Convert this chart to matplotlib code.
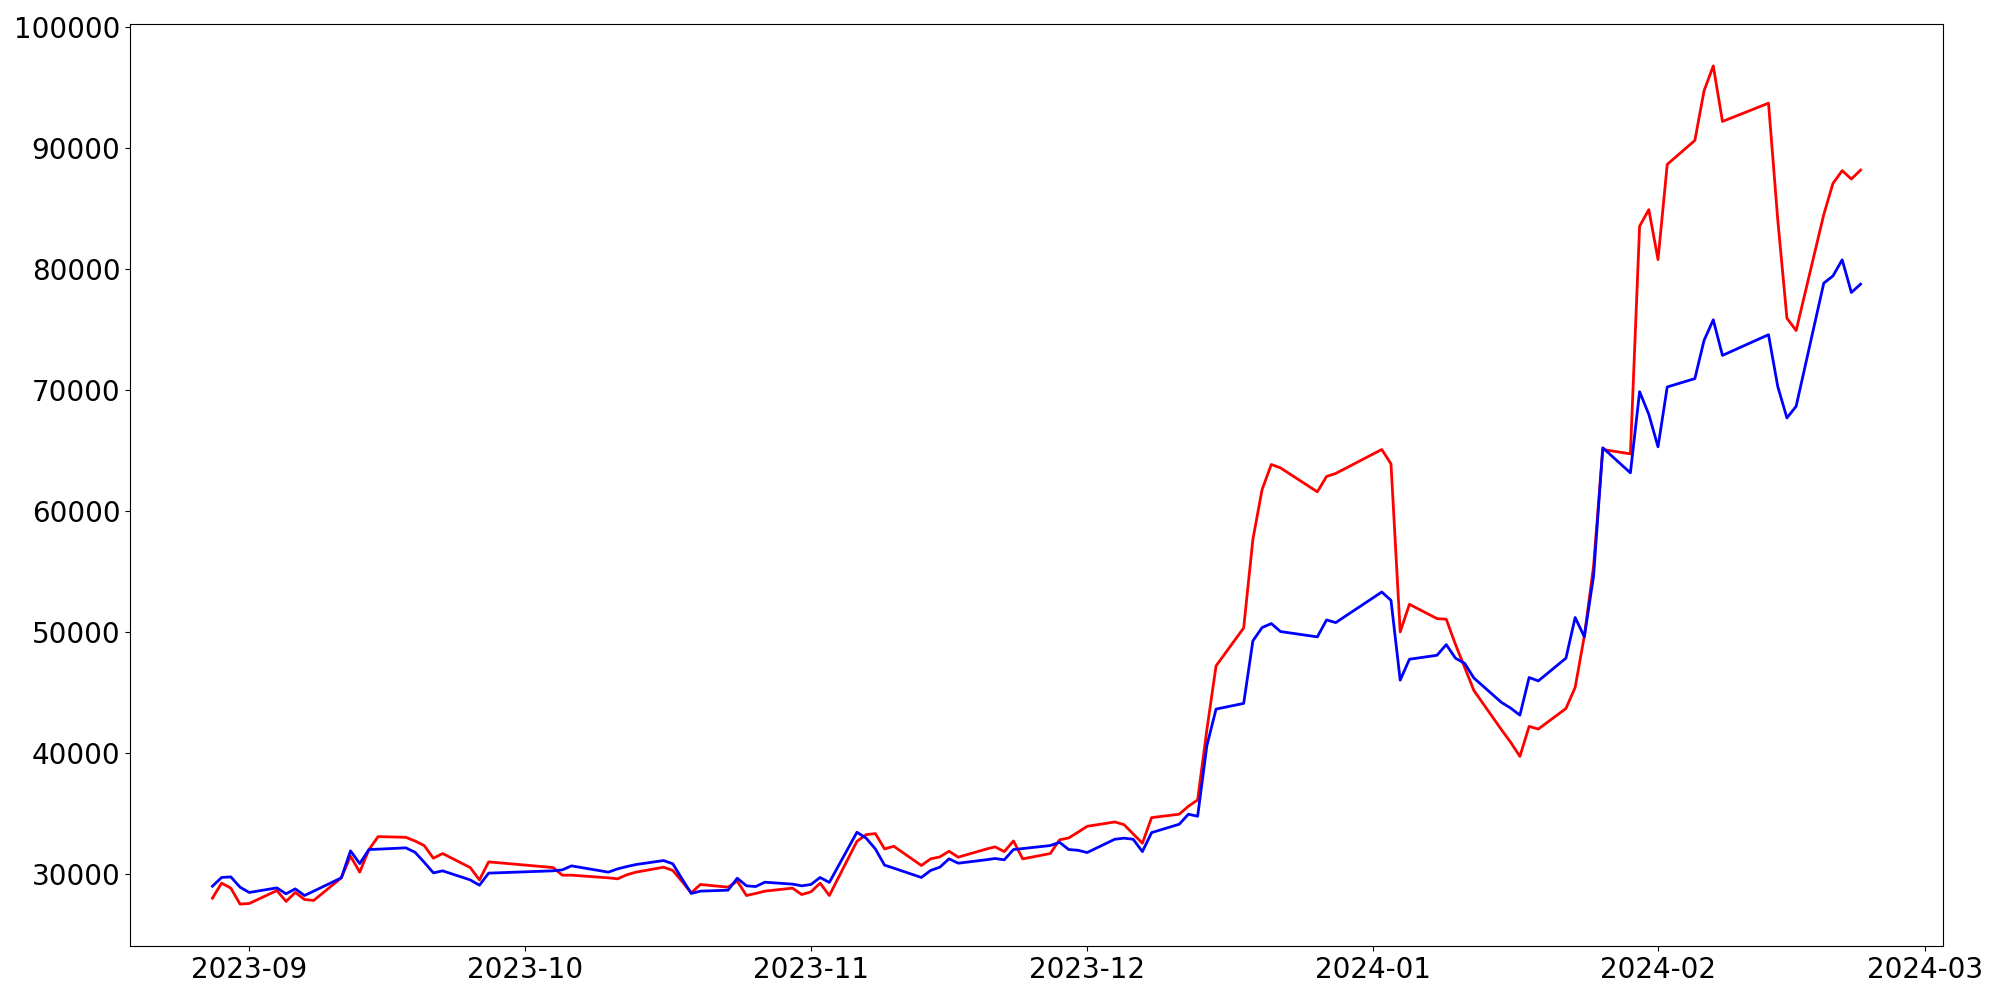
import matplotlib
matplotlib.use("Agg")
import matplotlib.pyplot as plt
import matplotlib.dates as mdates
import pandas as pd

# Trading days (KRX calendar)
start_date = "2023-08-28"
end_date = "2024-02-23"
market_holidays = ["2023-09-28", "2023-09-29", "2023-10-02", "2023-10-03",
                   "2023-10-09", "2023-12-25", "2023-12-29", "2024-01-01",
                   "2024-02-09", "2024-02-12"]

red_values = [
    27990, 29230, 28820, 27500, 27550, 28620, 27720, 28460, 27880, 27800,
    29670, 31460, 30140, 32010, 33080, 33020, 32720, 32340, 31290, 31680,
    30520, 29500, 30990, 30520, 29890, 29890, 29670, 29590, 29920, 30140,
    30550, 30280, 29370, 28430, 29120, 28900, 29400, 28210, 28380, 28570,
    28820, 28290, 28510, 29230, 28210, 32690, 33240, 33330, 32060, 32280,
    30690, 31240, 31400, 31870, 31380, 32040, 32230, 31840, 32720, 31240,
    31680, 32810, 32970, 33440, 33930, 34290, 34070, 33300, 32530, 34650,
    34930, 35590, 36110, 41900, 47190, 50330, 57650, 61770, 63840, 63560,
    61580, 62850, 63100, 65080, 63890, 50000, 52280, 51100, 51050, 48970,
    47070, 45160, 41910, 40870, 39710, 42190, 41970, 43670, 45410, 49670,
    55440, 65080, 64720, 83540, 84910, 80780, 88650, 90630, 94730, 96790,
    92200, 93710, 84100, 75930, 74910, 84500, 87080, 88130, 87440, 88180,
]

blue_values = [
    28980, 29700, 29750, 28900, 28460, 28840, 28350, 28760, 28210, 28570,
    29670, 31900, 30850, 32010, 32040, 32150, 31790, 30960, 30080, 30250,
    29500, 29060, 30060, 30250, 30330, 30660, 30140, 30410, 30600, 30770,
    31100, 30830, 29590, 28380, 28570, 28650, 29640, 29010, 28950, 29310,
    29150, 29010, 29120, 29700, 29290, 33440, 32950, 32060, 30720, 30470,
    29700, 30280, 30550, 31240, 30880, 31160, 31270, 31160, 32010, 32090,
    32340, 32610, 32010, 31950, 31760, 32860, 32950, 32860, 31840, 33410,
    34100, 34930, 34760, 40590, 43620, 44090, 49260, 50360, 50690, 50030,
    49590, 50990, 50770, 53300, 52610, 46010, 47740, 48070, 48950, 47830,
    47400, 46190, 44170, 43700, 43120, 46230, 45950, 47830, 51190, 49590,
    54620, 65220, 63150, 69860, 67980, 65300, 70250, 70940, 74100, 75800,
    72860, 74570, 70300, 67690, 68650, 78830, 79430, 80760, 78060, 78750,
]

dates = pd.bdate_range(start_date, end_date, freq="C", holidays=market_holidays)

fig = plt.figure(figsize=(20, 10), dpi=100)
ax = fig.add_axes([0.065, 0.054, 0.9065, 0.922])

ax.plot(dates, red_values, color="red", linewidth=2)
ax.plot(dates, blue_values, color="blue", linewidth=2)

ax.xaxis.set_major_locator(mdates.MonthLocator())
ax.xaxis.set_major_formatter(mdates.DateFormatter("%Y-%m"))
ax.tick_params(axis="both", labelsize=20)

fig.savefig("out.png", dpi=100)
